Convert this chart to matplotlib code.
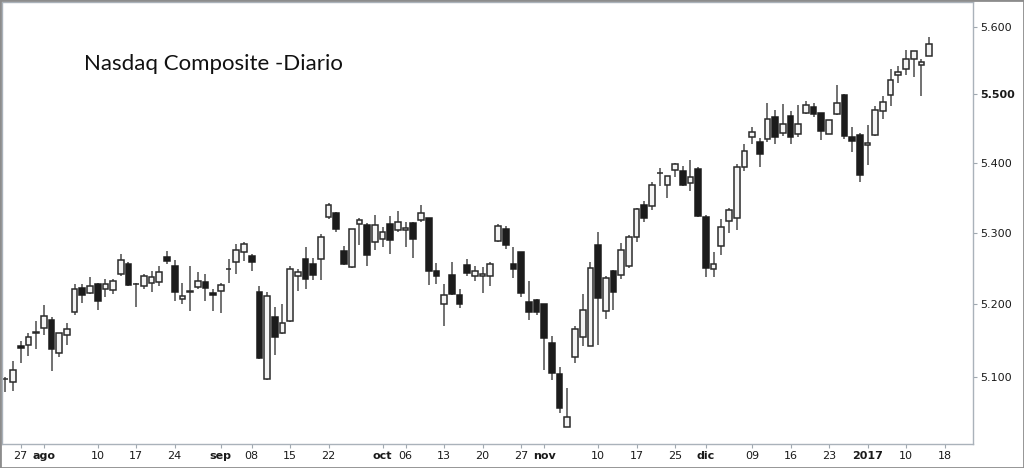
import matplotlib
matplotlib.use('Agg')
import matplotlib.pyplot as plt
from matplotlib.ticker import FixedLocator, NullLocator
from matplotlib.patches import Rectangle
import numpy as np

# daily OHLC, Jul 25 2016 .. Jan 13 2017 (trading days only)
opens = [5097, 5094, 5143, 5144, 5160, 5168, 5178, 5133, 5158, 5190,
         5223, 5216, 5228, 5222, 5220, 5243, 5257, 5228, 5226, 5230,
         5231, 5266, 5254, 5208, 5218, 5224, 5231, 5216, 5219, 5249,
         5259, 5273, 5268, 5218, 5097, 5182, 5160, 5177, 5239, 5263,
         5256, 5263, 5323, 5328, 5275, 5252, 5313, 5312, 5288, 5291,
         5313, 5304, 5305, 5314, 5318, 5321, 5247, 5200, 5241, 5213,
         5255, 5240, 5239, 5239, 5289, 5306, 5256, 5273, 5204, 5206,
         5200, 5147, 5104, 5033, 5127, 5155, 5143, 5283, 5191, 5246,
         5241, 5253, 5295, 5340, 5338, 5385, 5368, 5390, 5388, 5371,
         5391, 5323, 5249, 5282, 5317, 5321, 5394, 5437, 5430, 5434,
         5466, 5443, 5468, 5442, 5473, 5482, 5472, 5442, 5471, 5499,
         5438, 5440, 5426, 5440, 5475, 5499, 5528, 5537, 5552, 5543,
         5557]
highs = [5101, 5122, 5150, 5161, 5177, 5199, 5182, 5160, 5175, 5228,
         5229, 5238, 5230, 5235, 5235, 5271, 5259, 5230, 5243, 5246,
         5253, 5275, 5262, 5230, 5254, 5245, 5242, 5221, 5230, 5264,
         5284, 5287, 5270, 5226, 5217, 5196, 5201, 5254, 5249, 5281,
         5265, 5299, 5342, 5330, 5282, 5306, 5321, 5314, 5326, 5308,
         5324, 5331, 5316, 5316, 5340, 5322, 5258, 5229, 5259, 5221,
         5263, 5254, 5252, 5259, 5313, 5310, 5280, 5274, 5233, 5207,
         5201, 5157, 5114, 5086, 5170, 5214, 5259, 5302, 5240, 5248,
         5286, 5297, 5335, 5346, 5372, 5393, 5382, 5400, 5396, 5405,
         5394, 5325, 5273, 5320, 5336, 5399, 5428, 5452, 5436, 5487,
         5477, 5485, 5475, 5484, 5490, 5487, 5473, 5463, 5513, 5500,
         5452, 5443, 5455, 5483, 5497, 5537, 5542, 5565, 5564, 5552,
         5584]
lows = [5080, 5082, 5120, 5129, 5139, 5158, 5109, 5127, 5144, 5185,
        5202, 5214, 5193, 5211, 5215, 5240, 5226, 5197, 5221, 5217,
        5225, 5257, 5205, 5200, 5191, 5222, 5205, 5191, 5188, 5230,
        5243, 5260, 5247, 5125, 5096, 5130, 5159, 5176, 5219, 5222,
        5234, 5234, 5320, 5301, 5255, 5251, 5283, 5254, 5276, 5280,
        5270, 5302, 5280, 5265, 5316, 5227, 5228, 5170, 5213, 5195,
        5240, 5233, 5216, 5225, 5288, 5278, 5237, 5211, 5178, 5186,
        5110, 5096, 5051, 5033, 5120, 5143, 5143, 5144, 5180, 5192,
        5236, 5251, 5287, 5315, 5333, 5367, 5350, 5380, 5367, 5360,
        5323, 5238, 5238, 5269, 5300, 5305, 5389, 5428, 5394, 5431,
        5427, 5439, 5427, 5437, 5471, 5466, 5433, 5442, 5469, 5435,
        5416, 5372, 5397, 5439, 5464, 5483, 5517, 5528, 5525, 5497,
        5557]
closes = [5098, 5110, 5140, 5155, 5162, 5184, 5138, 5160, 5166, 5221,
          5213, 5225, 5205, 5228, 5233, 5262, 5227, 5229, 5240, 5238,
          5245, 5260, 5218, 5212, 5219, 5232, 5223, 5213, 5227, 5250,
          5276, 5284, 5259, 5126, 5212, 5155, 5174, 5250, 5245, 5235,
          5241, 5295, 5340, 5306, 5257, 5306, 5319, 5269, 5312, 5301,
          5290, 5316, 5307, 5292, 5329, 5247, 5239, 5213, 5214, 5200,
          5244, 5246, 5242, 5257, 5310, 5283, 5250, 5216, 5190, 5189,
          5154, 5106, 5058, 5046, 5166, 5193, 5251, 5209, 5237, 5218,
          5276, 5295, 5334, 5322, 5369, 5386, 5381, 5399, 5369, 5380,
          5324, 5251, 5256, 5309, 5333, 5394, 5417, 5445, 5413, 5464,
          5437, 5457, 5437, 5457, 5484, 5471, 5447, 5463, 5487, 5439,
          5432, 5383, 5429, 5477, 5488, 5521, 5532, 5552, 5564, 5547,
          5574]

# x ticks on trading-day index
tick_idx = [2, 5, 12, 17, 22, 28, 32, 37, 42, 49, 52, 57, 62, 67, 70,
            77, 82, 87, 91, 97, 102, 107, 112, 117, 122]
tick_labels = ['27', 'ago', '10', '17', '24', 'sep', '08', '15', '22', 'oct',
               '06', '13', '20', '27', 'nov', '10', '17', '25', 'dic', '09',
               '16', '23', '2017', '10', '18']
bold_labels = ['ago', 'sep', 'oct', 'nov', 'dic', '2017']

y_ticks = [5100, 5200, 5300, 5400, 5500, 5600]
y_labels = ['5.100', '5.200', '5.300', '5.400', '5.500', '5.600']

W, H = 1024, 468
fig = plt.figure(figsize=(W / 100, H / 100), dpi=100)
ax = fig.add_axes([2 / W, 1 - 444 / H, 971 / W, 442 / H])

x = np.arange(len(closes))
o = np.array(opens, dtype=float)
c = np.array(closes, dtype=float)
up = c >= o

ax.vlines(x, lows, highs, color='#4a4a4a', linewidth=1.1, zorder=1)
body_lo = np.minimum(o, c)
body_h = np.maximum(np.abs(c - o), 0.6)
ax.bar(x[up], body_h[up], bottom=body_lo[up], width=0.74,
       color='#f4f4f4', edgecolor='#2a2a2a', linewidth=1.1, zorder=2)
ax.bar(x[~up], body_h[~up], bottom=body_lo[~up], width=0.74,
       color='#1c1c1c', edgecolor='#1c1c1c', linewidth=1.1, zorder=2)

ax.set_yscale('log')
ax.set_ylim(5010, 5637)
ax.set_xlim(-0.43, 125.7)

ax.yaxis.set_major_locator(FixedLocator(y_ticks))
ax.yaxis.set_minor_locator(NullLocator())
ax.set_yticklabels(y_labels)
ax.yaxis.tick_right()
ax.set_xticks(tick_idx)
ax.set_xticklabels(tick_labels)

for lab in ax.get_xticklabels():
    if lab.get_text() in bold_labels:
        lab.set_fontweight('bold')
for lab in ax.get_yticklabels():
    if lab.get_text() == '5.500':
        lab.set_fontweight('bold')

ax.tick_params(axis='both', labelsize=8, length=3, width=0.8,
               color='#a0a8b0', labelcolor='#1a1a1a', pad=2)
for s in ax.spines.values():
    s.set_color('#aab2ba')
    s.set_linewidth(1)

fig.text(84 / W, 1 - 64 / H, 'Nasdaq Composite -Diario', fontsize=16,
         family='Lato', color='#111111', va='center', ha='left')

fig.patches.append(Rectangle((0, 0), 1, 1, transform=fig.transFigure,
                             fill=False, edgecolor='#8c8c8c', linewidth=2))

fig.savefig('out.png', dpi=100)
